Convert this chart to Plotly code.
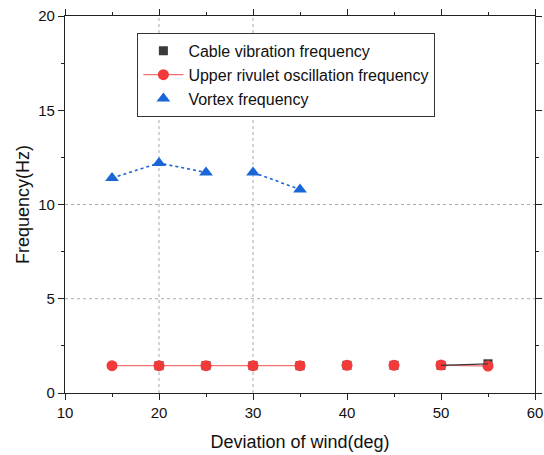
import plotly.graph_objects as go

# deviation of wind (deg)
deg_cable = [20, 25, 30, 35, 40, 45, 50, 55]
cable_freq = [1.45, 1.45, 1.45, 1.45, 1.47, 1.47, 1.47, 1.55]

deg_rivulet = [15, 20, 25, 30, 35, 40, 45, 50, 55]
rivulet_freq = [1.45, 1.45, 1.45, 1.45, 1.45, 1.47, 1.47, 1.48, 1.43]

deg_vortex = [15, 20, 25, 30, 35]
vortex_freq = [11.4, 12.2, 11.7, 11.7, 10.8]

x_ticks = [10, 20, 30, 40, 50, 60]
y_ticks = [0, 5, 10, 15, 20]

red = '#f23a3a'
blue = '#1a66d9'
dark = '#3a3a3a'
font_family = 'Liberation Sans, Arial'

fig = go.Figure()

# dotted grid lines as they appear in the figure
for gx in [20, 30]:
    fig.add_vline(x=gx, line=dict(color='#aaaaaa', width=1, dash='dot'), layer='below')
for gy in [5, 10]:
    fig.add_hline(y=gy, line=dict(color='#aaaaaa', width=1, dash='dot'), layer='below')

# vortex dotted line, broken between 25 and 30
vx = deg_vortex[:3] + [None] + deg_vortex[3:]
vy = vortex_freq[:3] + [None] + vortex_freq[3:]
fig.add_trace(go.Scatter(x=vx, y=vy, mode='lines',
                         line=dict(color=blue, width=1.6, dash='dot'),
                         connectgaps=False, showlegend=False, hoverinfo='skip'))

# rivulet: line broken between 35 and 50 (as drawn in Origin)
rx = deg_rivulet[:5] + [None] + deg_rivulet[7:]
ry = rivulet_freq[:5] + [None] + rivulet_freq[7:]

fig.add_trace(go.Scatter(x=deg_cable, y=cable_freq, mode='markers',
                         name='Cable vibration frequency',
                         marker=dict(symbol='square', color=dark, size=9)))
fig.add_trace(go.Scatter(x=rx, y=ry, mode='lines+markers',
                         name='Upper rivulet oscillation frequency',
                         connectgaps=False,
                         line=dict(color='#f47070', width=1.3),
                         marker=dict(symbol='circle', color=red, size=11)))
fig.add_trace(go.Scatter(x=deg_rivulet[5:7], y=rivulet_freq[5:7], mode='markers',
                         showlegend=False,
                         marker=dict(symbol='circle', color=red, size=11)))
fig.add_trace(go.Scatter(x=deg_cable[-2:], y=cable_freq[-2:], mode='lines',
                         showlegend=False, hoverinfo='skip',
                         line=dict(color=dark, width=1.3)))
fig.add_trace(go.Scatter(x=deg_vortex, y=vortex_freq, mode='markers',
                         name='Vortex frequency',
                         marker=dict(symbol='triangle-up', color=blue, size=12)))

axis_common = dict(
    showgrid=False, zeroline=False, showline=True, linecolor='#222', linewidth=1.2,
    mirror='ticks', ticks='outside', ticklen=6, tickwidth=1.2, tickcolor='#222',
    automargin=False,
    tickfont=dict(family=font_family, size=15, color='#111'),
)

fig.update_layout(
    width=544, height=455,
    plot_bgcolor='white', paper_bgcolor='white',
    margin=dict(l=65, r=9, t=16, b=62),
    font=dict(family=font_family, color='#111'),
    xaxis=dict(range=[10, 60], tickvals=x_ticks,
               minor=dict(ticks='outside', ticklen=3, tickcolor='#222', dtick=5),
               title=dict(text='Deviation of wind(deg)', font=dict(size=18)),
               **axis_common),
    yaxis=dict(range=[0, 20], tickvals=y_ticks,
               minor=dict(ticks='outside', ticklen=3, tickcolor='#222', dtick=2.5),
               title=dict(text='Frequency(Hz)', font=dict(size=18), standoff=3),
               **axis_common),
    legend=dict(x=0.154, y=0.955, xanchor='left', yanchor='top',
                bgcolor='white', bordercolor='#333', borderwidth=1,
                font=dict(size=16, color='#111'), tracegroupgap=0,
                itemwidth=40),
)

# drop the default page margin so the 544x455 figure fills the window exactly
fig.write_html("out.html", config={'displayModeBar': False},
               post_script="document.body.style.margin='0';")
